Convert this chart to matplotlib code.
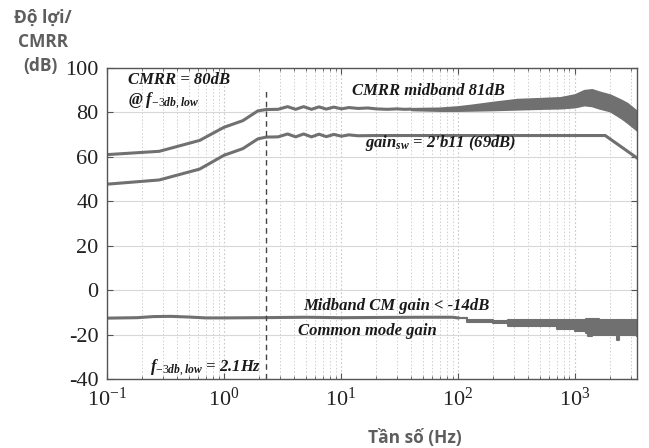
import matplotlib
matplotlib.use("Agg")
import matplotlib.pyplot as plt
import numpy as np

plt.rcParams['mathtext.fontset'] = 'custom'
plt.rcParams['mathtext.rm'] = 'Liberation Serif'
plt.rcParams['mathtext.it'] = 'Liberation Serif:bold:italic'
plt.rcParams['mathtext.bf'] = 'Liberation Serif:bold:italic'
plt.rcParams['axes.unicode_minus'] = False

# ---- data ----
cmrr_f = [0.1, 0.28, 0.62, 1.0, 1.45, 1.95, 2.3, 2.9, 3.5, 4.1, 4.8, 5.6, 6.5, 7.5, 8.7,
          10.1, 11.7, 14, 17, 20, 25, 30, 35, 40]
cmrr_db = [61.0, 62.5, 67.4, 73.3, 76.3, 80.7, 81.3, 81.4, 82.6, 81.4, 82.6, 81.4, 82.5, 81.5, 82.4,
           81.6, 82.2, 81.8, 82.0, 81.6, 81.4, 81.6, 81.4, 81.5]
cmrr_band_f = [40, 70, 100, 130, 200, 320, 500, 750, 1000, 1200, 1400, 1600, 2000, 2500, 2800, 3400]
cmrr_band_hi = [81.8, 82.0, 82.6, 83.3, 84.6, 85.9, 86.3, 86.7, 88.0, 89.9, 90.3, 89.3, 87.9, 85.5, 84.1, 80.5]
cmrr_band_lo = [81.2, 80.9, 80.9, 81.0, 81.2, 81.5, 81.8, 82.0, 82.5, 83.4, 83.0, 82.0, 80.7, 77.5, 75.6, 72.0]

gain_f = [0.1, 0.28, 0.62, 1.0, 1.45, 1.95, 2.3, 2.9, 3.5, 4.1, 4.8, 5.6, 6.5, 7.5, 8.7,
          10.1, 11.7, 14, 20, 100, 1000, 1820, 3400]
gain_db = [47.7, 49.6, 54.5, 60.7, 63.7, 68.1, 68.9, 69.0, 70.3, 69.0, 70.3, 69.0, 70.2, 69.1, 70.1,
           69.3, 69.9, 69.5, 69.6, 69.6, 69.6, 69.6, 59.5]

cm_f = [0.1, 0.18, 0.25, 0.35, 0.5, 0.7, 1.0, 2.0, 5.0, 10, 20, 50, 90, 100]
cm_db = [-12.6, -12.4, -11.9, -11.8, -12.1, -12.5, -12.5, -12.4, -12.2, -12.4, -12.3, -12.2, -12.2, -12.5]
cm_band_f = [100, 120, 200, 250, 270, 400, 700, 1000, 1250, 1300, 1400, 1450, 1600, 2200, 2300, 2400, 3000, 3400]
cm_band_hi = [-12.5, -13.6, -14.0, -14.1, -13.5, -13.3, -13.3, -13.3, -13.2, -13.2, -13.2, -13.2, -13.3, -13.3, -13.3, -13.3, -13.3, -13.4]
cm_band_lo = [-12.7, -14.4, -14.6, -15.0, -16.0, -16.3, -17.5, -18.5, -19.5, -20.8, -20.2, -20.0, -20.0, -20.3, -22.5, -20.3, -20.4, -20.6]

f3db = 2.3
xticks = [0.1, 1, 10, 100, 1000]
yticks = [-40, -20, 0, 20, 40, 60, 80, 100]

# ---- figure ----
col = '#707070'
fig = plt.figure(figsize=(6.49, 4.48), dpi=100)
ax = fig.add_axes([107/649, 1-379/448, 530/649, 311/448])

ax.plot(cmrr_f, cmrr_db, color=col, lw=2.2, solid_capstyle='butt')
ax.fill_between(cmrr_band_f, cmrr_band_lo, cmrr_band_hi, color=col, lw=1.5, edgecolor=col)
ax.plot(gain_f, gain_db, color=col, lw=2.2)
ax.plot(cm_f, cm_db, color=col, lw=2.2)
ax.fill_between(cm_band_f, cm_band_lo, cm_band_hi, color=col, lw=1.5, edgecolor=col, step='post')
ax.axvline(f3db, color='#444444', lw=1.0, ls=(0, (4, 3)), ymax=0.93)

ax.set_xscale('log')
ax.set_xlim(0.1, 3400)
ax.set_ylim(-40, 100)
ax.set_xticks(xticks)
ax.set_yticks(yticks)
ax.grid(True, which='major', axis='y', color='#d8d8d8', lw=0.8, ls='-')
ax.grid(True, which='major', axis='x', color='#c8c8c8', lw=0.8, ls=(0, (1.5, 2)))
ax.grid(True, which='minor', axis='x', color='#cfcfcf', lw=0.7, ls=(0, (1.5, 2)))
ax.set_axisbelow(True)
ax.tick_params(which='both', direction='in', top=True, right=True, color='#555555')
ax.tick_params(which='major', length=4, labelsize=16, pad=6)
ax.tick_params(which='minor', length=2.5)
for lab in ax.get_xticklabels() + ax.get_yticklabels():
    lab.set_fontfamily('Liberation Serif')
    lab.set_color('#222222')
for s in ax.spines.values():
    s.set_color('#555555')
    s.set_linewidth(1.0)

tk = dict(fontfamily='Liberation Serif', fontweight='bold', fontstyle='italic',
          color='#1a1a1a', fontsize=12, transform=ax.transAxes)
def axp(x, y):
    return ((x - 107) / 530, (379 - y) / 311)

ax.text(*axp(128, 80), 'CMRR = 80dB', va='center', ha='left', **tk)
ax.text(*axp(128, 101), r'@ $f_{-3db,low}$', va='center', ha='left', **tk)
ax.text(*axp(352, 91), 'CMRR midband 81dB', va='center', ha='left', **tk)
ax.text(*axp(365, 143), r"$gain_{sw}$ = 2'b11 (69dB)", va='center', ha='left', **tk)
ax.text(*axp(303, 306), 'Midband CM gain < -14dB', va='center', ha='left', **tk)
ax.text(*axp(298, 331), 'Common mode gain', va='center', ha='left', **tk)
ax.text(*axp(150, 368), r'$f_{-3db,low}$ = 2.1Hz', va='center', ha='left', **tk)

lk = dict(fontfamily='Open Sans', fontweight='bold', color='#5e5e5e', fontsize=12.5)
fig.text(43/649, 1-18/448, 'Độ lợi/', ha='center', va='center', **lk)
fig.text(43/649, 1-42/448, 'CMRR', ha='center', va='center', **lk)
fig.text(40/649, 1-66/448, '(dB)', ha='center', va='center', **lk)
fig.text(415/649, 1-438/448, 'Tần số (Hz)', ha='center', va='center', **lk)

fig.savefig('out.png', dpi=100)
